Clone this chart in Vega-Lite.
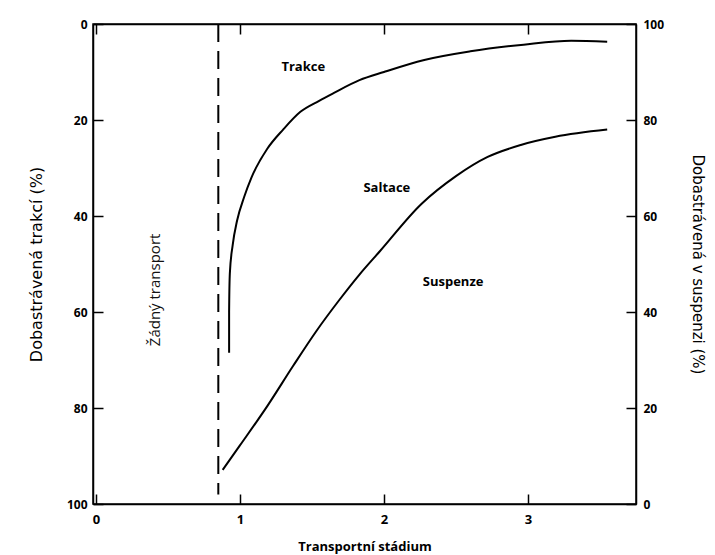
{
  "$schema": "https://vega.github.io/schema/vega-lite/v6.json",
  "width": 543,
  "height": 480,
  "autosize": "none",
  "padding": {"left": 93, "top": 24, "right": 79, "bottom": 51},
  "background": "white",
  "config": {
    "view": {"stroke": "black", "strokeWidth": 1.5},
    "axis": {
      "domainColor": "black", "domainWidth": 1.5, "zindex": 1,
      "tickColor": "black", "tickWidth": 1.5, "tickSize": -10,
      "labelFont": "Open Sans", "labelFontWeight": "bold", "labelFontSize": 12, "labelColor": "black",
      "titleFont": "DejaVu Sans", "titleColor": "black", "grid": false
    }
  },
  "datasets": {
    "trakce": [
      {"x": 0.925, "t": 68.5}, {"x": 0.925, "t": 60}, {"x": 0.93, "t": 52}, {"x": 0.95, "t": 46},
      {"x": 0.98, "t": 41}, {"x": 1.03, "t": 36}, {"x": 1.08, "t": 32}, {"x": 1.19, "t": 26},
      {"x": 1.30, "t": 22}, {"x": 1.42, "t": 18.3}, {"x": 1.55, "t": 16}, {"x": 1.65, "t": 14.4},
      {"x": 1.83, "t": 11.7}, {"x": 2.0, "t": 10}, {"x": 2.28, "t": 7.5}, {"x": 2.6, "t": 5.7},
      {"x": 2.97, "t": 4.3}, {"x": 3.3, "t": 3.5}, {"x": 3.55, "t": 3.7}
    ],
    "susp": [
      {"x": 0.88, "s": 7.1}, {"x": 1.0, "s": 12.2}, {"x": 1.19, "s": 20.4}, {"x": 1.37, "s": 28.8},
      {"x": 1.53, "s": 36.0}, {"x": 1.69, "s": 42.5}, {"x": 1.83, "s": 47.8}, {"x": 1.97, "s": 52.6},
      {"x": 2.26, "s": 62.5}, {"x": 2.5, "s": 68.3}, {"x": 2.72, "s": 72.3}, {"x": 2.95, "s": 74.8},
      {"x": 3.19, "s": 76.5}, {"x": 3.55, "s": 78}
    ],
    "rule": [{"x": 0.85, "t": 0, "t2": 98}],
    "labels": [
      {"x": 1.44, "t": 9, "text": "Trakce"},
      {"x": 2.02, "t": 34.2, "text": "Saltace"},
      {"x": 2.48, "t": 53.8, "text": "Suspenze"}
    ],
    "side": [{"x": 0.41, "t": 55.4, "text": "Žádný transport"}]
  },
  "resolve": {"scale": {"y": "independent"}, "axis": {"y": "independent", "x": "independent"}},
  "layer": [
    {
      "layer": [
        {
          "data": {"name": "trakce"},
          "mark": {"type": "line", "color": "black", "strokeWidth": 2, "interpolate": "monotone"},
          "encoding": {
            "x": {"field": "x", "type": "quantitative", "scale": {"domain": [-0.02, 3.75], "nice": false, "zero": false},
              "axis": {"orient": "bottom", "values": [0, 1, 2, 3], "format": "d", "title": "Transportní stádium",
                "titleFont": "Open Sans", "titleFontWeight": "bold", "titleFontSize": 13, "labelPadding": 19, "titlePadding": 14, "labelFontSize": 13}},
            "y": {"field": "t", "type": "quantitative", "scale": {"domain": [0, 100], "reverse": true, "nice": false},
              "axis": {"orient": "left", "values": [0, 20, 40, 60, 80, 100], "title": "Dobastrávená trakcí (%)",
                "titleFontWeight": "normal", "titleFontSize": 16, "labelPadding": 16, "titlePadding": 22}}
          }
        },
        {
          "data": {"name": "rule"},
          "mark": {"type": "rule", "color": "black", "strokeWidth": 2, "strokeDash": [18, 9]},
          "encoding": {
            "x": {"field": "x", "type": "quantitative"},
            "y": {"field": "t", "type": "quantitative"},
            "y2": {"field": "t2"}
          }
        },
        {
          "data": {"name": "labels"},
          "mark": {"type": "text", "font": "Open Sans", "fontWeight": "bold", "fontSize": 13, "color": "black"},
          "encoding": {
            "x": {"field": "x", "type": "quantitative"},
            "y": {"field": "t", "type": "quantitative"},
            "text": {"field": "text"}
          }
        },
        {
          "data": {"name": "side"},
          "mark": {"type": "text", "font": "Open Sans", "fontSize": 15, "angle": 270, "color": "#111"},
          "encoding": {
            "x": {"field": "x", "type": "quantitative"},
            "y": {"field": "t", "type": "quantitative"},
            "text": {"field": "text"}
          }
        }
      ]
    },
    {
      "data": {"name": "susp"},
      "mark": {"type": "line", "color": "black", "strokeWidth": 2, "interpolate": "monotone"},
      "encoding": {
        "x": {"field": "x", "type": "quantitative",
          "axis": {"orient": "top", "values": [0, 1, 2, 3], "labels": false, "title": null}},
        "y": {"field": "s", "type": "quantitative", "scale": {"domain": [0, 100], "nice": false},
          "axis": {"orient": "right", "values": [0, 20, 40, 60, 80, 100], "title": "Dobastrávená v suspenzi (%)",
            "titleFontWeight": "normal", "titleFontSize": 15, "labelPadding": 17, "titlePadding": 26, "titleAngle": 90}}
      }
    }
  ]
}
